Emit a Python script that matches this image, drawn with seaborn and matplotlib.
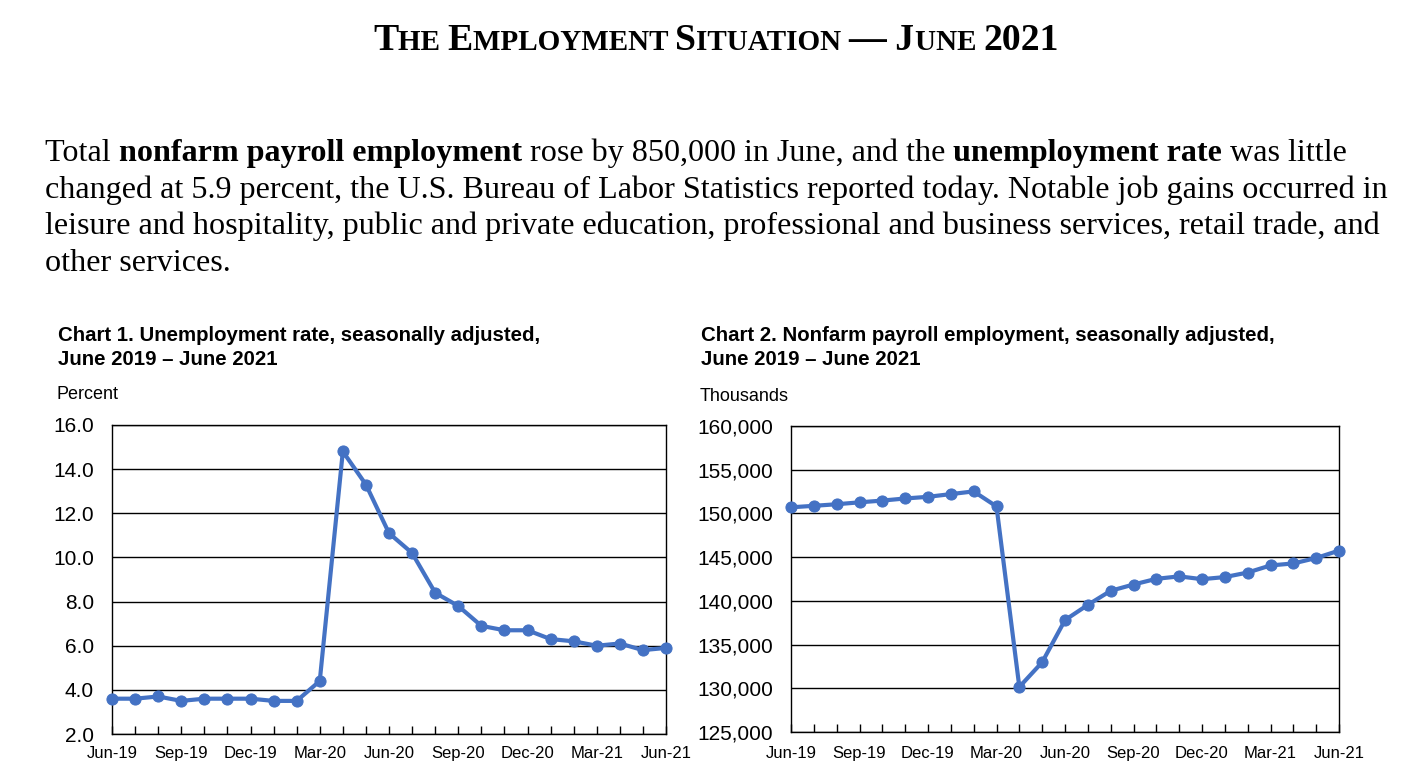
import numpy as np
import pandas as pd
import matplotlib
matplotlib.use("Agg")
import matplotlib.pyplot as plt
import seaborn as sns

# ---------------- data ----------------
months = ["Jun-19", "Jul-19", "Aug-19", "Sep-19", "Oct-19", "Nov-19", "Dec-19",
          "Jan-20", "Feb-20", "Mar-20", "Apr-20", "May-20", "Jun-20", "Jul-20",
          "Aug-20", "Sep-20", "Oct-20", "Nov-20", "Dec-20", "Jan-21", "Feb-21",
          "Mar-21", "Apr-21", "May-21", "Jun-21"]
unemployment_rate = [3.6, 3.6, 3.7, 3.5, 3.6, 3.6, 3.6, 3.5, 3.5, 4.4, 14.8, 13.3,
                     11.1, 10.2, 8.4, 7.8, 6.9, 6.7, 6.7, 6.3, 6.2, 6.0, 6.1, 5.8, 5.9]
payroll_thousands = [150700, 150870, 151050, 151270, 151470, 151710, 151900,
                     152210, 152520, 150800, 130150, 132980, 137800, 139540,
                     141150, 141870, 142520, 142800, 142480, 142720, 143240,
                     144050, 144280, 144900, 145750]
unemp_ticks = [2.0, 4.0, 6.0, 8.0, 10.0, 12.0, 14.0, 16.0]
payroll_ticks = [125000, 130000, 135000, 140000, 145000, 150000, 155000, 160000]

title_runs = [("T", "big"), ("HE ", "small"), ("E", "big"), ("MPLOYMENT ", "small"),
              ("S", "big"), ("ITUATION ", "small"), ("\u2014 J", "big"),
              ("UNE ", "small"), ("2021", "big")]
paragraph_lines = [
    [("Total ", False), ("nonfarm payroll employment", True),
     (" rose by 850,000 in June, and the ", False), ("unemployment rate", True),
     (" was little", False)],
    [("changed at 5.9 percent, the U.S. Bureau of Labor Statistics reported today. Notable job gains occurred in", False)],
    [("leisure and hospitality, public and private education, professional and business services, retail trade, and", False)],
    [("other services.", False)],
]
chart1_title = ["Chart 1. Unemployment rate, seasonally adjusted,", "June 2019 \u2013 June 2021"]
chart2_title = ["Chart 2. Nonfarm payroll employment, seasonally adjusted,", "June 2019 \u2013 June 2021"]

# ---------------- style ----------------
sns.set_theme(style="white")
plt.rcParams["font.family"] = ["Liberation Sans", "DejaVu Sans"]
plt.rcParams["text.color"] = "black"
plt.rcParams["axes.labelcolor"] = "black"
plt.rcParams["xtick.color"] = "black"
plt.rcParams["ytick.color"] = "black"

W, H = 1421, 779
fig = plt.figure(figsize=(W / 100, H / 100), dpi=100)
fig.patch.set_facecolor("white")

LINE_COLOR = "#4472C4"
df = pd.DataFrame({"idx": np.arange(len(months)), "month": months,
                   "rate": unemployment_rate, "payroll": payroll_thousands})


def make_axes(px_left, px_right, px_top, px_bottom):
    return fig.add_axes([px_left / W, 1 - px_bottom / H,
                         (px_right - px_left) / W, (px_bottom - px_top) / H])


def style_axes(ax, yticks, fmt, xpad):
    ax.set_xlim(0, len(months) - 1)
    ax.set_ylim(yticks[0], yticks[-1])
    ax.set_yticks(yticks)
    ax.set_yticklabels([fmt(v) for v in yticks])
    ax.set_xticks(np.arange(len(months)))
    ax.set_xticklabels([m if i % 3 == 0 else "" for i, m in enumerate(months)])
    ax.grid(axis="y", color="black", linewidth=1.0)
    ax.grid(axis="x", visible=False)
    ax.set_axisbelow(True)
    for s in ax.spines.values():
        s.set_color("black")
        s.set_linewidth(1.0)
        s.set_visible(True)
    ax.tick_params(axis="x", direction="in", length=6, width=1, color="black",
                   labelcolor="black", labelsize=12, pad=xpad, bottom=True)
    for lab in ax.get_xticklabels():
        lab.set_verticalalignment("baseline")
    ax.tick_params(axis="y", length=0, labelsize=15, pad=13, labelcolor="black")
    ax.set_xlabel("")
    ax.set_ylabel("")
    ax.set_facecolor("white")


ax1 = make_axes(112, 666, 425, 734)
sns.lineplot(data=df, x="idx", y="rate", ax=ax1, color=LINE_COLOR, linewidth=3,
             marker="o", markersize=8, markeredgecolor=LINE_COLOR, clip_on=False, zorder=5)
style_axes(ax1, unemp_ticks, lambda v: f"{v:.1f}", 17.3)

ax2 = make_axes(791, 1339, 426, 732)
sns.lineplot(data=df, x="idx", y="payroll", ax=ax2, color=LINE_COLOR, linewidth=3,
             marker="o", markersize=8, markeredgecolor=LINE_COLOR, clip_on=False, zorder=5)
style_axes(ax2, payroll_ticks, lambda v: f"{v:,.0f}", 18.7)

# ---------------- text layout helpers ----------------
fig.canvas.draw()
R = fig.canvas.get_renderer()


def ink_width(s, **kw):
    t = fig.text(0, 0, s, **kw)
    w = t.get_window_extent(R).width
    t.remove()
    return w


def adv(s, **kw):
    return ink_width("|" + s + "|", **kw) - ink_width("||", **kw)


def place_runs(runs, x_px, baseline_px, center=False):
    total = sum(adv(s, **kw) for s, kw in runs)
    x = x_px - total / 2 if center else x_px
    for s, kw in runs:
        fig.text(x / W, 1 - baseline_px / H, s, va="baseline", ha="left", color="black", **kw)
        x += adv(s, **kw)


SERIF = ["Liberation Serif", "DejaVu Serif"]
big = dict(family=SERIF, fontweight="bold", fontsize=27.2)
small = dict(family=SERIF, fontweight="bold", fontsize=21)
place_runs([(s, big if k == "big" else small) for s, k in title_runs], 716, 50, center=True)

para_normal = dict(family=SERIF, fontsize=23.1)
para_bold = dict(family=SERIF, fontsize=23.1, fontweight="bold")
for i, line in enumerate(paragraph_lines):
    place_runs([(s, para_bold if b else para_normal) for s, b in line], 45, 161 + i * 36.7)

ct = dict(fontsize=14.7, fontweight="bold", color="black")
for i, line in enumerate(chart1_title):
    fig.text(58 / W, 1 - (341 + i * 24) / H, line, va="baseline", ha="left", **ct)
for i, line in enumerate(chart2_title):
    fig.text(701 / W, 1 - (341 + i * 24) / H, line, va="baseline", ha="left", **ct)

fig.text(57 / W, 1 - 399 / H, "Percent", va="baseline", ha="left", fontsize=13, color="black")
fig.text(700 / W, 1 - 401 / H, "Thousands", va="baseline", ha="left", fontsize=13, color="black")

fig.savefig("out.png", dpi=100, facecolor="white")
